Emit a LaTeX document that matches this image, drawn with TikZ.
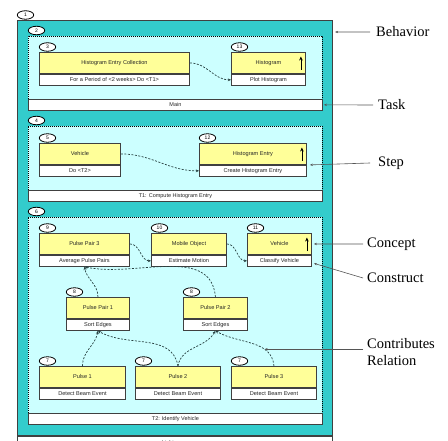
\documentclass[tikz,border=0pt]{standalone}
\usepackage{fontspec}
\setmainfont{Liberation Serif}
\newfontfamily\boxsans{Liberation Sans}
\usetikzlibrary{arrows.meta,shapes.geometric}

\definecolor{behaviorteal}{HTML}{33CCCC}
\definecolor{taskcyan}{HTML}{CCFFFF}
\definecolor{conceptyellow}{HTML}{FFFF99}
\definecolor{boxline}{HTML}{404040}
\definecolor{boxtext}{HTML}{262626}
\definecolor{linkcol}{HTML}{264040}
\definecolor{notecol}{HTML}{555555}

\tikzset{
  behaviorbox/.style={draw=boxline, fill=behaviorteal, line width=1.1bp, inner sep=0, anchor=north west},
  labelstrip/.style={draw=boxline, fill=white, line width=0.9bp, inner sep=0, minimum height=11bp,
    font=\boxsans\fontsize{5.5bp}{6.5bp}\selectfont, text=boxtext},
  taskbox/.style={draw=black, fill=taskcyan, line width=0.8bp, dash pattern=on 1bp off 1bp,
    inner sep=0, anchor=north west},
  concept/.style={draw=boxline, fill=conceptyellow, line width=0.9bp, inner sep=0, minimum height=21bp,
    anchor=north west, font=\boxsans\fontsize{5.6bp}{6.5bp}\selectfont, text=boxtext},
  construct/.style={draw=boxline, fill=white, line width=0.9bp, inner sep=0, minimum height=11bp,
    anchor=north west, font=\boxsans\fontsize{5.6bp}{6.5bp}\selectfont, text=boxtext},
  oval/.style={ellipse, draw=black, fill=white, line width=0.8bp, inner sep=0,
    minimum width=16.5bp, minimum height=8.5bp, font=\boxsans\fontsize{5bp}{6bp}\selectfont},
  link/.style={draw=linkcol, line width=0.7bp, dash pattern=on 2bp off 1.5bp,
    -{Stealth[length=3.2bp,width=2.8bp]}},
  uparrow/.style={draw=black, line width=0.8bp, -{Stealth[length=4bp,width=3.6bp]}},
  note/.style={draw=notecol, line width=0.6bp, -{Stealth[length=3bp,width=2.4bp]}},
  notetext/.style={anchor=west, inner sep=0, font=\fontsize{14.5bp}{16.5bp}\selectfont, align=left},
}

\begin{document}
\begin{tikzpicture}[x=1bp,y=-1bp]
\useasboundingbox (0,0) rectangle (448,441);

% behaviour frame with its name strip
\node[behaviorbox, minimum width=315bp, minimum height=415bp] (beh) at (17,20) {};
\node[labelstrip, anchor=north west, minimum width=315bp, minimum height=14bp] (behl) at (beh.south west) {};
\node[font=\boxsans\fontsize{5.5bp}{6.5bp}\selectfont, text=boxtext] (behname) at (175,443.5) {Light array};
\node[oval] (o1) at ([xshift=8.5bp,yshift=5bp]beh.north west) {1};

% task frames
\node[taskbox, minimum width=294bp, minimum height=74bp] (t1) at (28,36) {};
\node[labelstrip, anchor=south west, minimum width=294bp] (t1l) at (t1.south west) {Main};
\node[oval] (o2) at ([xshift=8.5bp,yshift=5.5bp]t1.north west) {2};

\node[taskbox, minimum width=294bp, minimum height=75bp] (t2) at (28,126) {};
\node[labelstrip, anchor=south west, minimum width=294bp] (t2l) at (t2.south west) {T1: Compute Histogram Entry};
\node[oval] (o4) at ([xshift=8.5bp,yshift=5.5bp]t2.north west) {4};

\node[taskbox, minimum width=294bp, minimum height=207bp] (t3) at (28,217) {};
\node[labelstrip, anchor=south west, minimum width=294bp] (t3l) at (t3.south west) {T2: Identify Vehicle};
\node[oval] (o6) at ([xshift=8.5bp,yshift=5.5bp]t3.north west) {6};

% steps of Main
\node[concept, minimum width=150bp] (hec) at (39,52) {Histogram Entry Collection};
\node[construct, minimum width=150bp] (hecc) at (hec.south west) {For a Period of <2 weeks> Do <T1>};
\node[oval] (o3) at ([xshift=8.5bp,yshift=5bp]hec.north west) {3};

\node[concept, minimum width=74bp] (hist) at (231,52) {Histogram};
\node[construct, minimum width=74bp] (histc) at (hist.south west) {Plot Histogram};
\node[oval] (o13) at ([xshift=8.5bp,yshift=5bp]hist.north west) {13};

% steps of T1
\node[concept, minimum width=81bp] (veh) at (39,143) {Vehicle};
\node[construct, minimum width=81bp] (vehc) at (veh.south west) {Do <T2>};
\node[oval] (o5) at ([xshift=8.5bp,yshift=5bp]veh.north west) {5};

\node[concept, minimum width=107bp] (hent) at (199,143) {Histogram Entry};
\node[construct, minimum width=107bp] (hentc) at (hent.south west) {Create Histogram Entry};
\node[oval] (o12) at ([xshift=8.5bp,yshift=5bp]hent.north west) {12};

% steps of T2
\node[concept, minimum width=90bp] (pp3) at (39,233) {Pulse Pair 3};
\node[construct, minimum width=90bp] (pp3c) at (pp3.south west) {Average Pulse Pairs};
\node[oval] (o9) at ([xshift=8.5bp,yshift=5bp]pp3.north west) {9};

\node[concept, minimum width=75bp] (mo) at (151,233) {Mobile Object};
\node[construct, minimum width=75bp] (moc) at (mo.south west) {Estimate Motion};
\node[oval] (o10) at ([xshift=8.5bp,yshift=5bp]mo.north west) {10};

\node[concept, minimum width=64bp] (vc) at (247,233) {Vehicle};
\node[construct, minimum width=64bp] (vcc) at (vc.south west) {Classify Vehicle};
\node[oval] (o11) at ([xshift=8.5bp,yshift=5bp]vc.north west) {11};

\node[concept, minimum width=63bp] (pp1) at (66,297) {Pulse Pair 1};
\node[construct, minimum width=63bp] (pp1c) at (pp1.south west) {Sort Edges};
\node[oval] (o8a) at ([xshift=8.5bp,yshift=5bp]pp1.north west) {8};

\node[concept, minimum width=64bp] (pp2) at (183,297) {Pulse Pair 2};
\node[construct, minimum width=64bp] (pp2c) at (pp2.south west) {Sort Edges};
\node[oval] (o8b) at ([xshift=8.5bp,yshift=5bp]pp2.north west) {8};

\node[concept, minimum width=86bp] (p1) at (39,366) {Pulse 1};
\node[construct, minimum width=86bp] (p1c) at (p1.south west) {Detect Beam Event};
\node[oval] (o7a) at ([xshift=8.5bp,yshift=5bp]p1.north west) {7};

\node[concept, minimum width=85bp] (p2) at (135,366) {Pulse 2};
\node[construct, minimum width=85bp] (p2c) at (p2.south west) {Detect Beam Event};
\node[oval] (o7b) at ([xshift=8.5bp,yshift=5bp]p2.north west) {7};

\node[concept, minimum width=85bp] (p3) at (231,366) {Pulse 3};
\node[construct, minimum width=85bp] (p3c) at (p3.south west) {Detect Beam Event};
\node[oval] (o7c) at ([xshift=8.5bp,yshift=5bp]p3.north west) {7};

% upward arrows marking the result concepts
\foreach \b in {hist,hent,vc}
  \draw[uparrow] ([xshift=-5bp,yshift=-18bp]\b.north east) -- ([xshift=-5bp,yshift=-4.5bp]\b.north east);

% contributes relations
\draw[link] (hec.east) to[out=0,in=180] (histc.west);
\draw[link] (veh.east) to[out=0,in=180] (hentc.west);
\draw[link] (pp3.east) to[out=0,in=180] (moc.west);
\draw[link] (mo.east) to[out=0,in=180] (vcc.west);
\draw[link] (pp1.north) to[out=90,in=-80] (pp3c.south);
\draw[link] (pp2.north) to[out=95,in=-12] (pp3c.south);
\draw[link] (p1.north) to[out=90,in=-100] (pp1c.south);
\draw[link] (p2.north) to[out=100,in=-30] (pp1c.south);
\draw[link] (p2.north) to[out=80,in=-120] (pp2c.south);
\draw[link] (p3.north) to[out=95,in=-30] coordinate[pos=0.3] (contrib) (pp2c.south);

% legend annotations
\coordinate (behpt) at ([xshift=2bp,yshift=-12bp]beh.north east);
\node[notetext] (lbeh) at (376,32) {Behavior};
\draw[note] ([xshift=-6bp]lbeh.west) -- (behpt);

\node[notetext] (ltask) at (378,105) {Task};
\draw[note] ([xshift=-5bp]ltask.west) -- ([xshift=1bp]t1l.east);

\node[notetext] (lstep) at (378,163) {Step};
\draw[note] ([xshift=-8bp]lstep.west) -- ([xshift=3bp]hent.south east);

\node[notetext] (lconcept) at (367,244) {Concept};
\draw[note] ([xshift=-4bp]lconcept.west) -- ([xshift=2bp]vc.east);

\node[notetext] (lconstruct) at (367,278) {Construct};
\draw[note] ([xshift=-4bp]lconstruct.west) -- ([xshift=2bp,yshift=-2.5bp]vcc.east);

\node[notetext] (lcontrib) at (367,352) {Contributes\\Relation};
\coordinate (contribx) at (363,0);
\draw[note] (contrib -| contribx) -- (contrib);
\end{tikzpicture}
\end{document}
